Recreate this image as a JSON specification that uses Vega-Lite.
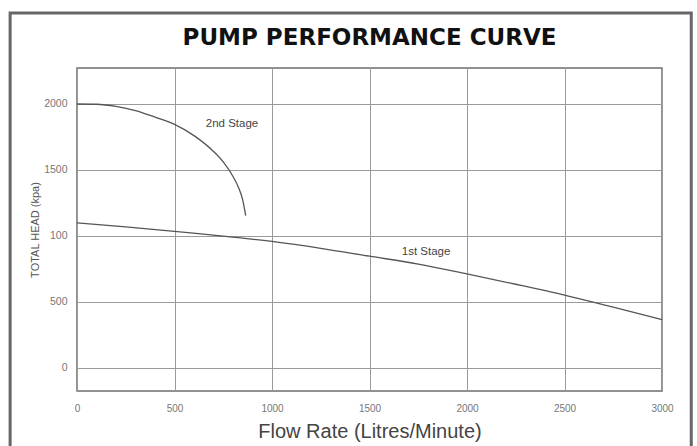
{
  "$schema": "https://vega.github.io/schema/vega-lite/v6.json",
  "width": 585,
  "height": 323,
  "autosize": {"type": "none"},
  "padding": {"left": 77, "top": 68, "right": 35, "bottom": 55},
  "background": "white",
  "config": {
    "view": {"stroke": "#6e6e6e", "strokeWidth": 1.5},
    "font": "Liberation Sans"
  },
  "datasets": {
    "curves": [
      {"stage": "1st Stage", "flow": 0, "head": 1098},
      {"stage": "1st Stage", "flow": 250, "head": 1068},
      {"stage": "1st Stage", "flow": 500, "head": 1033},
      {"stage": "1st Stage", "flow": 750, "head": 998},
      {"stage": "1st Stage", "flow": 1000, "head": 957},
      {"stage": "1st Stage", "flow": 1250, "head": 905},
      {"stage": "1st Stage", "flow": 1500, "head": 845},
      {"stage": "1st Stage", "flow": 1750, "head": 785},
      {"stage": "1st Stage", "flow": 2000, "head": 710},
      {"stage": "1st Stage", "flow": 2250, "head": 632},
      {"stage": "1st Stage", "flow": 2500, "head": 550},
      {"stage": "1st Stage", "flow": 2750, "head": 458},
      {"stage": "1st Stage", "flow": 3000, "head": 364},
      {"stage": "2nd Stage", "flow": 0, "head": 2000},
      {"stage": "2nd Stage", "flow": 100, "head": 1998},
      {"stage": "2nd Stage", "flow": 200, "head": 1982},
      {"stage": "2nd Stage", "flow": 300, "head": 1950},
      {"stage": "2nd Stage", "flow": 400, "head": 1900},
      {"stage": "2nd Stage", "flow": 500, "head": 1845},
      {"stage": "2nd Stage", "flow": 600, "head": 1760},
      {"stage": "2nd Stage", "flow": 700, "head": 1640},
      {"stage": "2nd Stage", "flow": 750, "head": 1560},
      {"stage": "2nd Stage", "flow": 800, "head": 1450},
      {"stage": "2nd Stage", "flow": 830, "head": 1360},
      {"stage": "2nd Stage", "flow": 850, "head": 1270},
      {"stage": "2nd Stage", "flow": 865, "head": 1153}
    ],
    "labels": [
      {"label": "2nd Stage", "flow": 795, "head": 1850},
      {"label": "1st Stage", "flow": 1790, "head": 873}
    ],
    "heading": [
      {"text": "PUMP PERFORMANCE CURVE", "flow": 1500, "head": 2500}
    ]
  },
  "layer": [
    {
      "data": {"name": "curves"},
      "mark": {"type": "line", "interpolate": "monotone", "color": "#555555", "strokeWidth": 1.3},
      "encoding": {
        "x": {
          "field": "flow",
          "type": "quantitative",
          "scale": {"domain": [0, 3000], "nice": false, "zero": false},
          "axis": {
            "values": [0, 500, 1000, 1500, 2000, 2500, 3000],
            "format": "d",
            "title": "Flow Rate (Litres/Minute)",
            "titleFont": "Liberation Sans",
            "titleFontWeight": "normal",
            "titleFontSize": 20,
            "titleColor": "#444444",
            "titlePadding": 8,
            "labelFontSize": 10,
            "labelColor": "#777777",
            "labelPadding": 12,
            "labelFlush": false,
            "ticks": false,
            "tickSize": 0,
            "domain": false,
            "grid": true,
            "gridColor": "#9a9a9a",
            "gridWidth": 1,
            "gridOpacity": 1
          }
        },
        "y": {
          "field": "head",
          "type": "quantitative",
          "scale": {"domain": [-178, 2273], "nice": false, "zero": false},
          "axis": {
            "values": [0, 500, 1000, 1500, 2000],
            "labelExpr": "datum.value == 1000 ? '100' : datum.label",
            "format": "d",
            "title": "TOTAL HEAD (kpa)",
            "titleFont": "Liberation Sans",
            "titleFontWeight": "normal",
            "titleFontSize": 11,
            "titleColor": "#555555",
            "titlePadding": 3,
            "labelFontSize": 10.5,
            "labelColor": "#777777",
            "labelPadding": 10,
            "ticks": false,
            "tickSize": 0,
            "domain": false,
            "grid": true,
            "gridColor": "#9a9a9a",
            "gridWidth": 1,
            "gridOpacity": 1
          }
        },
        "detail": {"field": "stage"}
      }
    },
    {
      "data": {"name": "labels"},
      "mark": {"type": "text", "fontSize": 11.5, "color": "#444444", "font": "Liberation Sans"},
      "encoding": {
        "x": {"field": "flow", "type": "quantitative"},
        "y": {"field": "head", "type": "quantitative"},
        "text": {"field": "label"}
      }
    },
    {
      "data": {"name": "heading"},
      "mark": {"type": "text", "fontSize": 23, "fontWeight": "bold", "color": "#111111", "font": "DejaVu Sans", "clip": false, "baseline": "middle"},
      "encoding": {
        "x": {"field": "flow", "type": "quantitative"},
        "y": {"field": "head", "type": "quantitative"},
        "text": {"field": "text"}
      }
    },
    {
      "data": {"values": [{}]},
      "mark": {"type": "rect", "fill": null, "fillOpacity": 0, "stroke": "#666666", "strokeWidth": 3, "clip": false},
      "encoding": {
        "x": {"datum": -343},
        "x2": {"datum": 3150},
        "y": {"datum": 2690},
        "y2": {"datum": -720}
      }
    }
  ]
}
